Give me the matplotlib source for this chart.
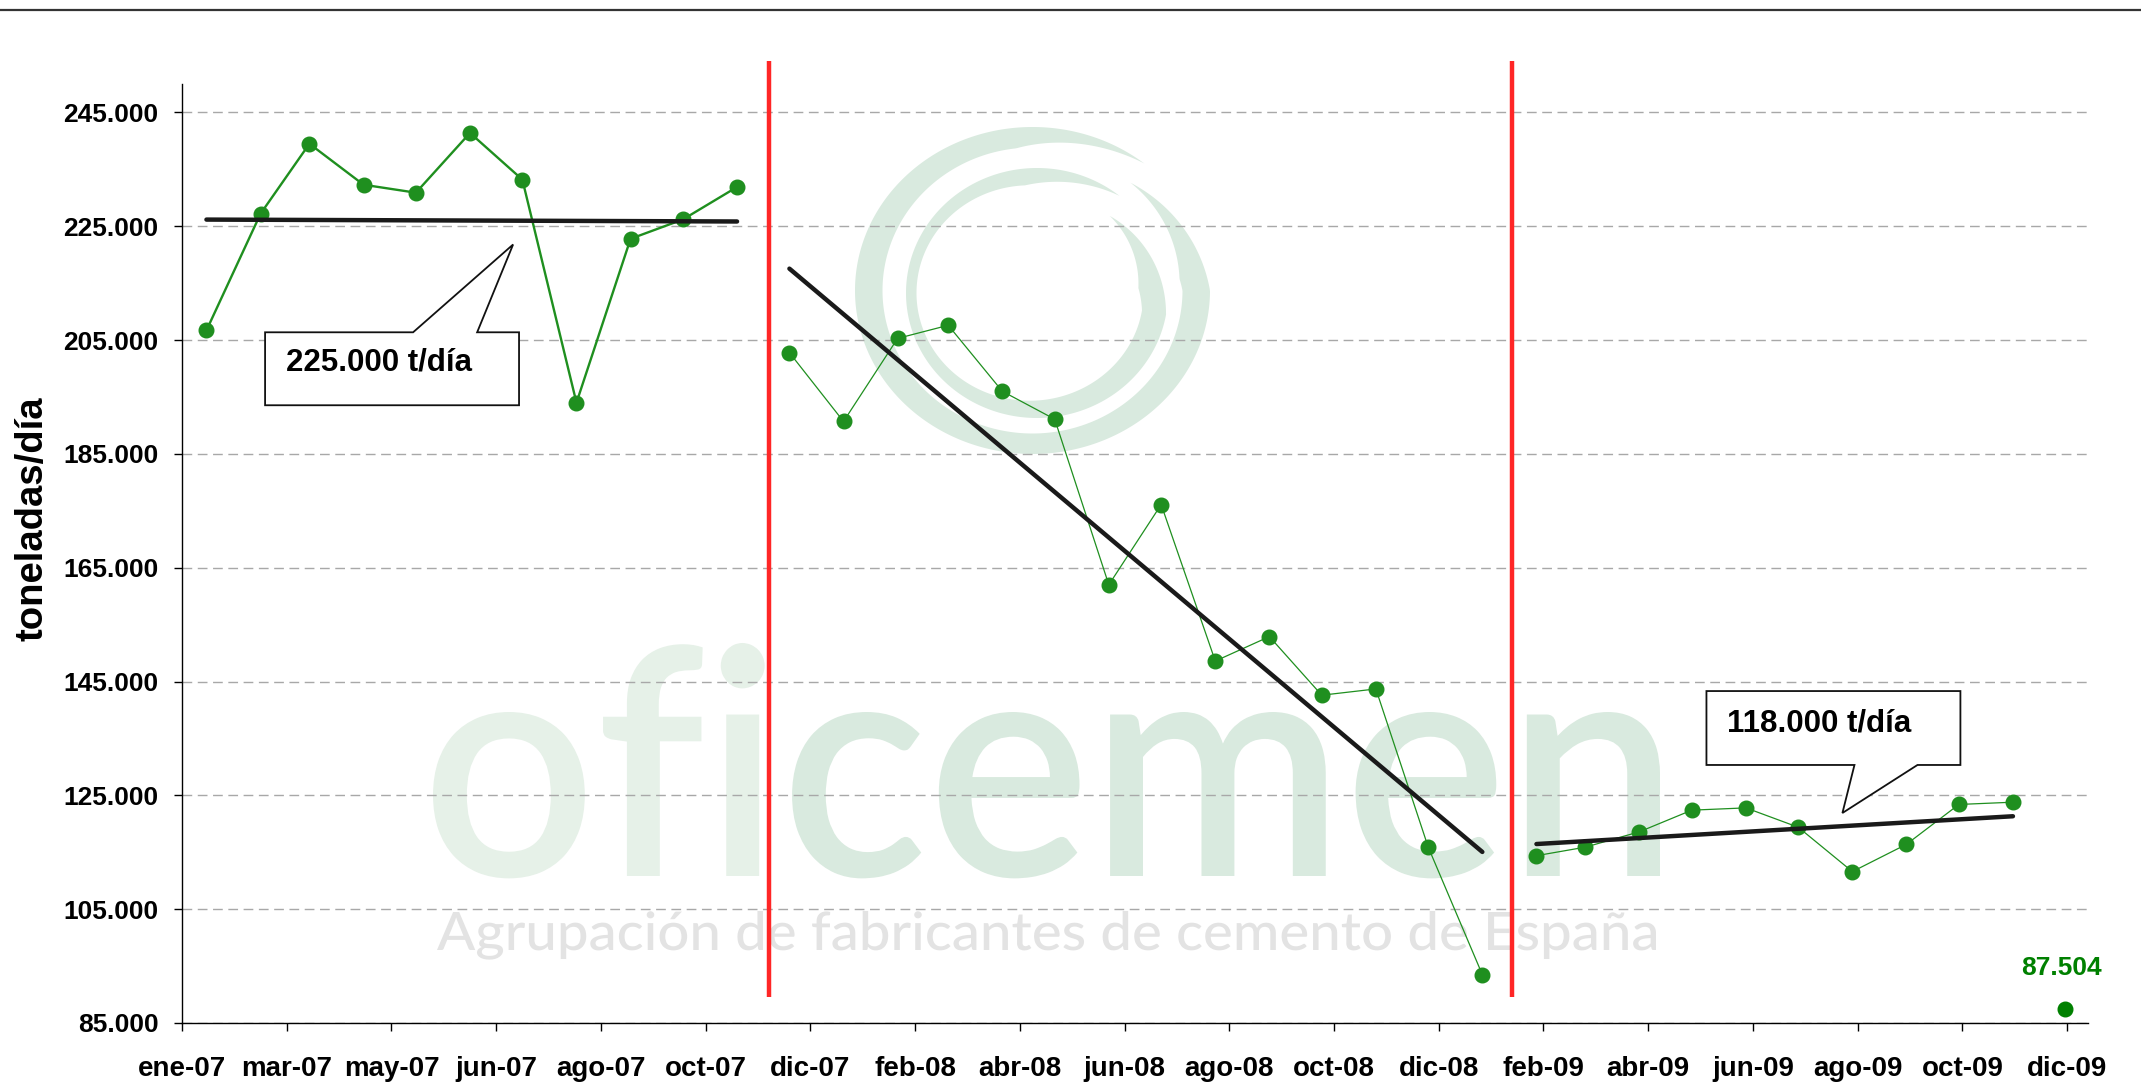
import datetime as dt
import numpy as np
import matplotlib
matplotlib.use("Agg")
import matplotlib.pyplot as plt
import matplotlib.dates as mdates
from matplotlib.patches import Polygon, PathPatch, Rectangle
from matplotlib.textpath import TextPath
from matplotlib.font_manager import FontProperties
from matplotlib.transforms import Affine2D
from matplotlib.lines import Line2D
from matplotlib.ticker import FuncFormatter, FixedLocator

# ---------------- data ----------------
months_a = ["ene-07", "feb-07", "mar-07", "abr-07", "may-07", "jun-07",
            "jul-07", "ago-07", "sep-07", "oct-07", "nov-07"]
values_a = [206700, 227200, 239500, 232300, 230900, 241400,
            233200, 194000, 222800, 226200, 231900]

months_b = ["dic-07", "ene-08", "feb-08", "mar-08", "abr-08", "may-08", "jun-08",
            "jul-08", "ago-08", "sep-08", "oct-08", "nov-08", "dic-08", "ene-09"]
values_b = [202800, 190700, 205300, 207600, 196000, 191100, 162000,
            176100, 148600, 152900, 142600, 143700, 115900, 93500]

months_c = ["feb-09", "mar-09", "abr-09", "may-09", "jun-09",
            "jul-09", "ago-09", "sep-09", "oct-09", "nov-09"]
values_c = [114400, 115900, 118600, 122400, 122800,
            119400, 111600, 116400, 123400, 123800]

months_last = ["dic-09"]
values_last = [87504]

tick_labels = ["ene-07", "mar-07", "may-07", "jun-07", "ago-07", "oct-07", "dic-07",
               "feb-08", "abr-08", "jun-08", "ago-08", "oct-08", "dic-08",
               "feb-09", "abr-09", "jun-09", "ago-09", "oct-09", "dic-09"]
y_ticks = [85000, 105000, 125000, 145000, 165000, 185000, 205000, 225000, 245000]

callout_texts = ["225.000 t/día", "118.000 t/día"]
value_label = "87.504"
y_label = "toneladas/día"
watermark_name = "oficemen"
watermark_sub = "Agrupación de fabricantes de cemento de España"

# ---------------- helpers ----------------
MES = {"ene": 1, "feb": 2, "mar": 3, "abr": 4, "may": 5, "jun": 6,
       "jul": 7, "ago": 8, "sep": 9, "oct": 10, "nov": 11, "dic": 12}


def to_date(lbl):
    m, y = lbl.split("-")
    return dt.datetime(2000 + int(y), MES[m], 15)


axis_start = dt.datetime(2007, 1, 1)


def day(n):
    return mdates.date2num(axis_start + dt.timedelta(days=n))


plt.rcParams["font.family"] = ["Liberation Sans", "DejaVu Sans"]

W, H = 2141, 1087
fig = plt.figure(figsize=(W / 100, H / 100), dpi=100)
ax = fig.add_axes([182 / W, 1 - 1023 / H, (2088 - 182) / W, (1023 - 84) / H])

# pixel (image coords, y down) -> figure transform
px = Affine2D().scale(1 / W, -1 / H).translate(0, 1) + fig.transFigure

# ---------------- watermark ----------------
green_wm = "#d9eadf"
green_wm_light = "#e6f1e8"


def text_patch(s, x0, x1, baseline, ref_char, ref_h, fp):
    tp = TextPath((0, 0), s, size=100, prop=fp)
    ext = tp.get_extents()
    rh = TextPath((0, 0), ref_char, size=100, prop=fp).get_extents().y1
    sx = (x1 - x0) / ext.width
    sy = ref_h / rh
    T = Affine2D().translate(-ext.x0, 0).scale(sx, -sy).translate(x0, baseline)
    return T.transform_path(tp)


name_path = text_patch(watermark_name, 433, 1660, 876, "n", 164,
                       FontProperties(family="Lato", weight="semibold"))
p_dark = PathPatch(name_path, transform=px, facecolor=green_wm, edgecolor="none", zorder=0.2)
ax.add_artist(p_dark)
p_dark.set_clip_path(Rectangle((769, 0), W, H, transform=px))
p_light = PathPatch(name_path, transform=px, facecolor=green_wm_light, edgecolor="none", zorder=0.2)
ax.add_artist(p_light)
p_light.set_clip_path(Rectangle((0, 0), 769, H, transform=px))

sub_path = text_patch(watermark_sub, 437, 1656, 950, "E", 38,
                      FontProperties(family="Lato", weight="medium"))
ax.add_artist(PathPatch(sub_path, transform=px, facecolor="#e3e3e3", edgecolor="none", zorder=0.2))


def ring(cx, cy, rx, ry, t0, t1, wfun, taper, shrink_from, shrink_to):
    t = np.linspace(t0, t1, 500)
    tr = np.radians(t)
    f = np.where(t <= shrink_from, 1.0,
                 1.0 - (1.0 - shrink_to) * (t - shrink_from) / (t1 - shrink_from))
    w = wfun(tr) * np.clip(np.minimum((t - t0) / taper, (t1 - t) / taper), 0, 1)
    ox = cx + rx * f * np.cos(tr)
    oy = cy - ry * f * np.sin(tr)
    ix = cx + (rx * f - w) * np.cos(tr)
    iy = cy - (ry * f - w) * np.sin(tr)
    return np.column_stack([np.r_[ox, ix[::-1]], np.r_[oy, iy[::-1]]])


outer = ring(1032.5, 290.5, 177.5, 163.5, 51, 410, lambda a: 24 + 3.5 * np.cos(2 * a), 45, 360, 0.86)
inner = ring(1037, 293, 131, 125, 51, 408, lambda a: 17.5 + 7 * np.cos(a), 45, 350, 0.83)
for poly in (outer, inner):
    ax.add_artist(Polygon(poly, closed=True, transform=px, facecolor=green_wm,
                          edgecolor="none", zorder=0.2))

# ---------------- data series ----------------
green = "#1f8f1f"
dark_green = "#008000"
groups = [(months_a, values_a, 1.7), (months_b, values_b, 0.9), (months_c, values_c, 0.9)]
for months, vals, lw in groups:
    xs = [to_date(m) for m in months]
    ax.plot(xs, vals, color=green, lw=lw, marker="o", ms=10.5, mfc=green, mec=green, zorder=3)
    xn = mdates.date2num(xs)
    coef = np.polyfit(xn, vals, 1)
    ends = np.array([xn[0], xn[-1]])
    ax.plot(ends, np.polyval(coef, ends), color="#1a1a1a", lw=3.2,
            solid_capstyle="round", zorder=4)

x_last = [to_date(m) for m in months_last]
ax.plot(x_last, values_last, "o", ms=10.5, color=dark_green, zorder=3)
ax.annotate(value_label, (mdates.date2num(x_last[0]), values_last[0]), xytext=(-2.5, 29),
            textcoords="offset points", ha="center", va="center",
            color=dark_green, fontsize=19, fontweight="bold", zorder=6)

# separators
ax.vlines([day(336.4), day(762)], 89600, 254000, colors="#ff2626", lw=3.2,
          clip_on=False, zorder=3.5)

# ---------------- callouts ----------------
def callout_up(left, right, bottom, top, b1, b2, tip, text, text_x, text_y):
    verts = [(day(left), bottom), (day(left), top), (day(b1), top), (day(tip[0]), tip[1]),
             (day(b2), top), (day(right), top), (day(right), bottom)]
    ax.add_patch(Polygon(verts, closed=True, facecolor="white", edgecolor="#111111",
                         lw=1.3, zorder=6, joinstyle="miter"))
    ax.text(day(text_x), text_y, text, ha="left", va="center", fontsize=22.5,
            fontweight="bold", color="black", zorder=7)


def callout_down(left, right, bottom, top, b1, b2, tip, text, text_x, text_y):
    verts = [(day(left), top), (day(right), top), (day(right), bottom), (day(b2), bottom),
             (day(tip[0]), tip[1]), (day(b1), bottom), (day(left), bottom)]
    ax.add_patch(Polygon(verts, closed=True, facecolor="white", edgecolor="#111111",
                         lw=1.3, zorder=6, joinstyle="miter"))
    ax.text(day(text_x), text_y, text, ha="left", va="center", fontsize=22.5,
            fontweight="bold", color="black", zorder=7)


callout_up(47.6, 193.1, 193550, 206370, 132.4, 169.1, (189.7, 221800),
           callout_texts[0], 59.6, 201100)
callout_down(873.4, 1018.9, 130340, 143330, 958.2, 994.3, (951.3, 121900),
             callout_texts[1], 885.4, 137700)

# ---------------- axes styling ----------------
ax.set_xlim(day(0), day(1092))
ax.set_ylim(85000, 250000)
ax.xaxis.set_major_locator(FixedLocator([day(60 * k) for k in range(len(tick_labels))]))
ax.set_xticklabels(tick_labels)
ax.yaxis.set_major_locator(FixedLocator(y_ticks))
ax.yaxis.set_major_formatter(FuncFormatter(lambda v, p: f"{int(round(v)):,}".replace(",", ".")))

ax.yaxis.grid(True, color="#a8a8a8", lw=1.0, linestyle=(0, (7, 4)))
ax.set_axisbelow(True)
for s in ("top", "right"):
    ax.spines[s].set_visible(False)
for s in ("left", "bottom"):
    ax.spines[s].set_color("black")
    ax.spines[s].set_linewidth(1.0)

ax.tick_params(axis="y", length=6, width=1, pad=11, labelsize=19, colors="black")
ax.tick_params(axis="x", length=6, width=1, pad=18, labelsize=20, colors="black")
for lbl in ax.get_xticklabels() + ax.get_yticklabels():
    lbl.set_fontweight("bold")

fig.text(33 / W, 1 - 519 / H, y_label, rotation=90, ha="center", va="center",
         fontsize=27.5, fontweight="bold")

fig.add_artist(Line2D([0, 1], [1 - 10 / H] * 2, transform=fig.transFigure,
                      color="#333333", lw=1.6))

fig.savefig("out.png", dpi=100, facecolor="white")
